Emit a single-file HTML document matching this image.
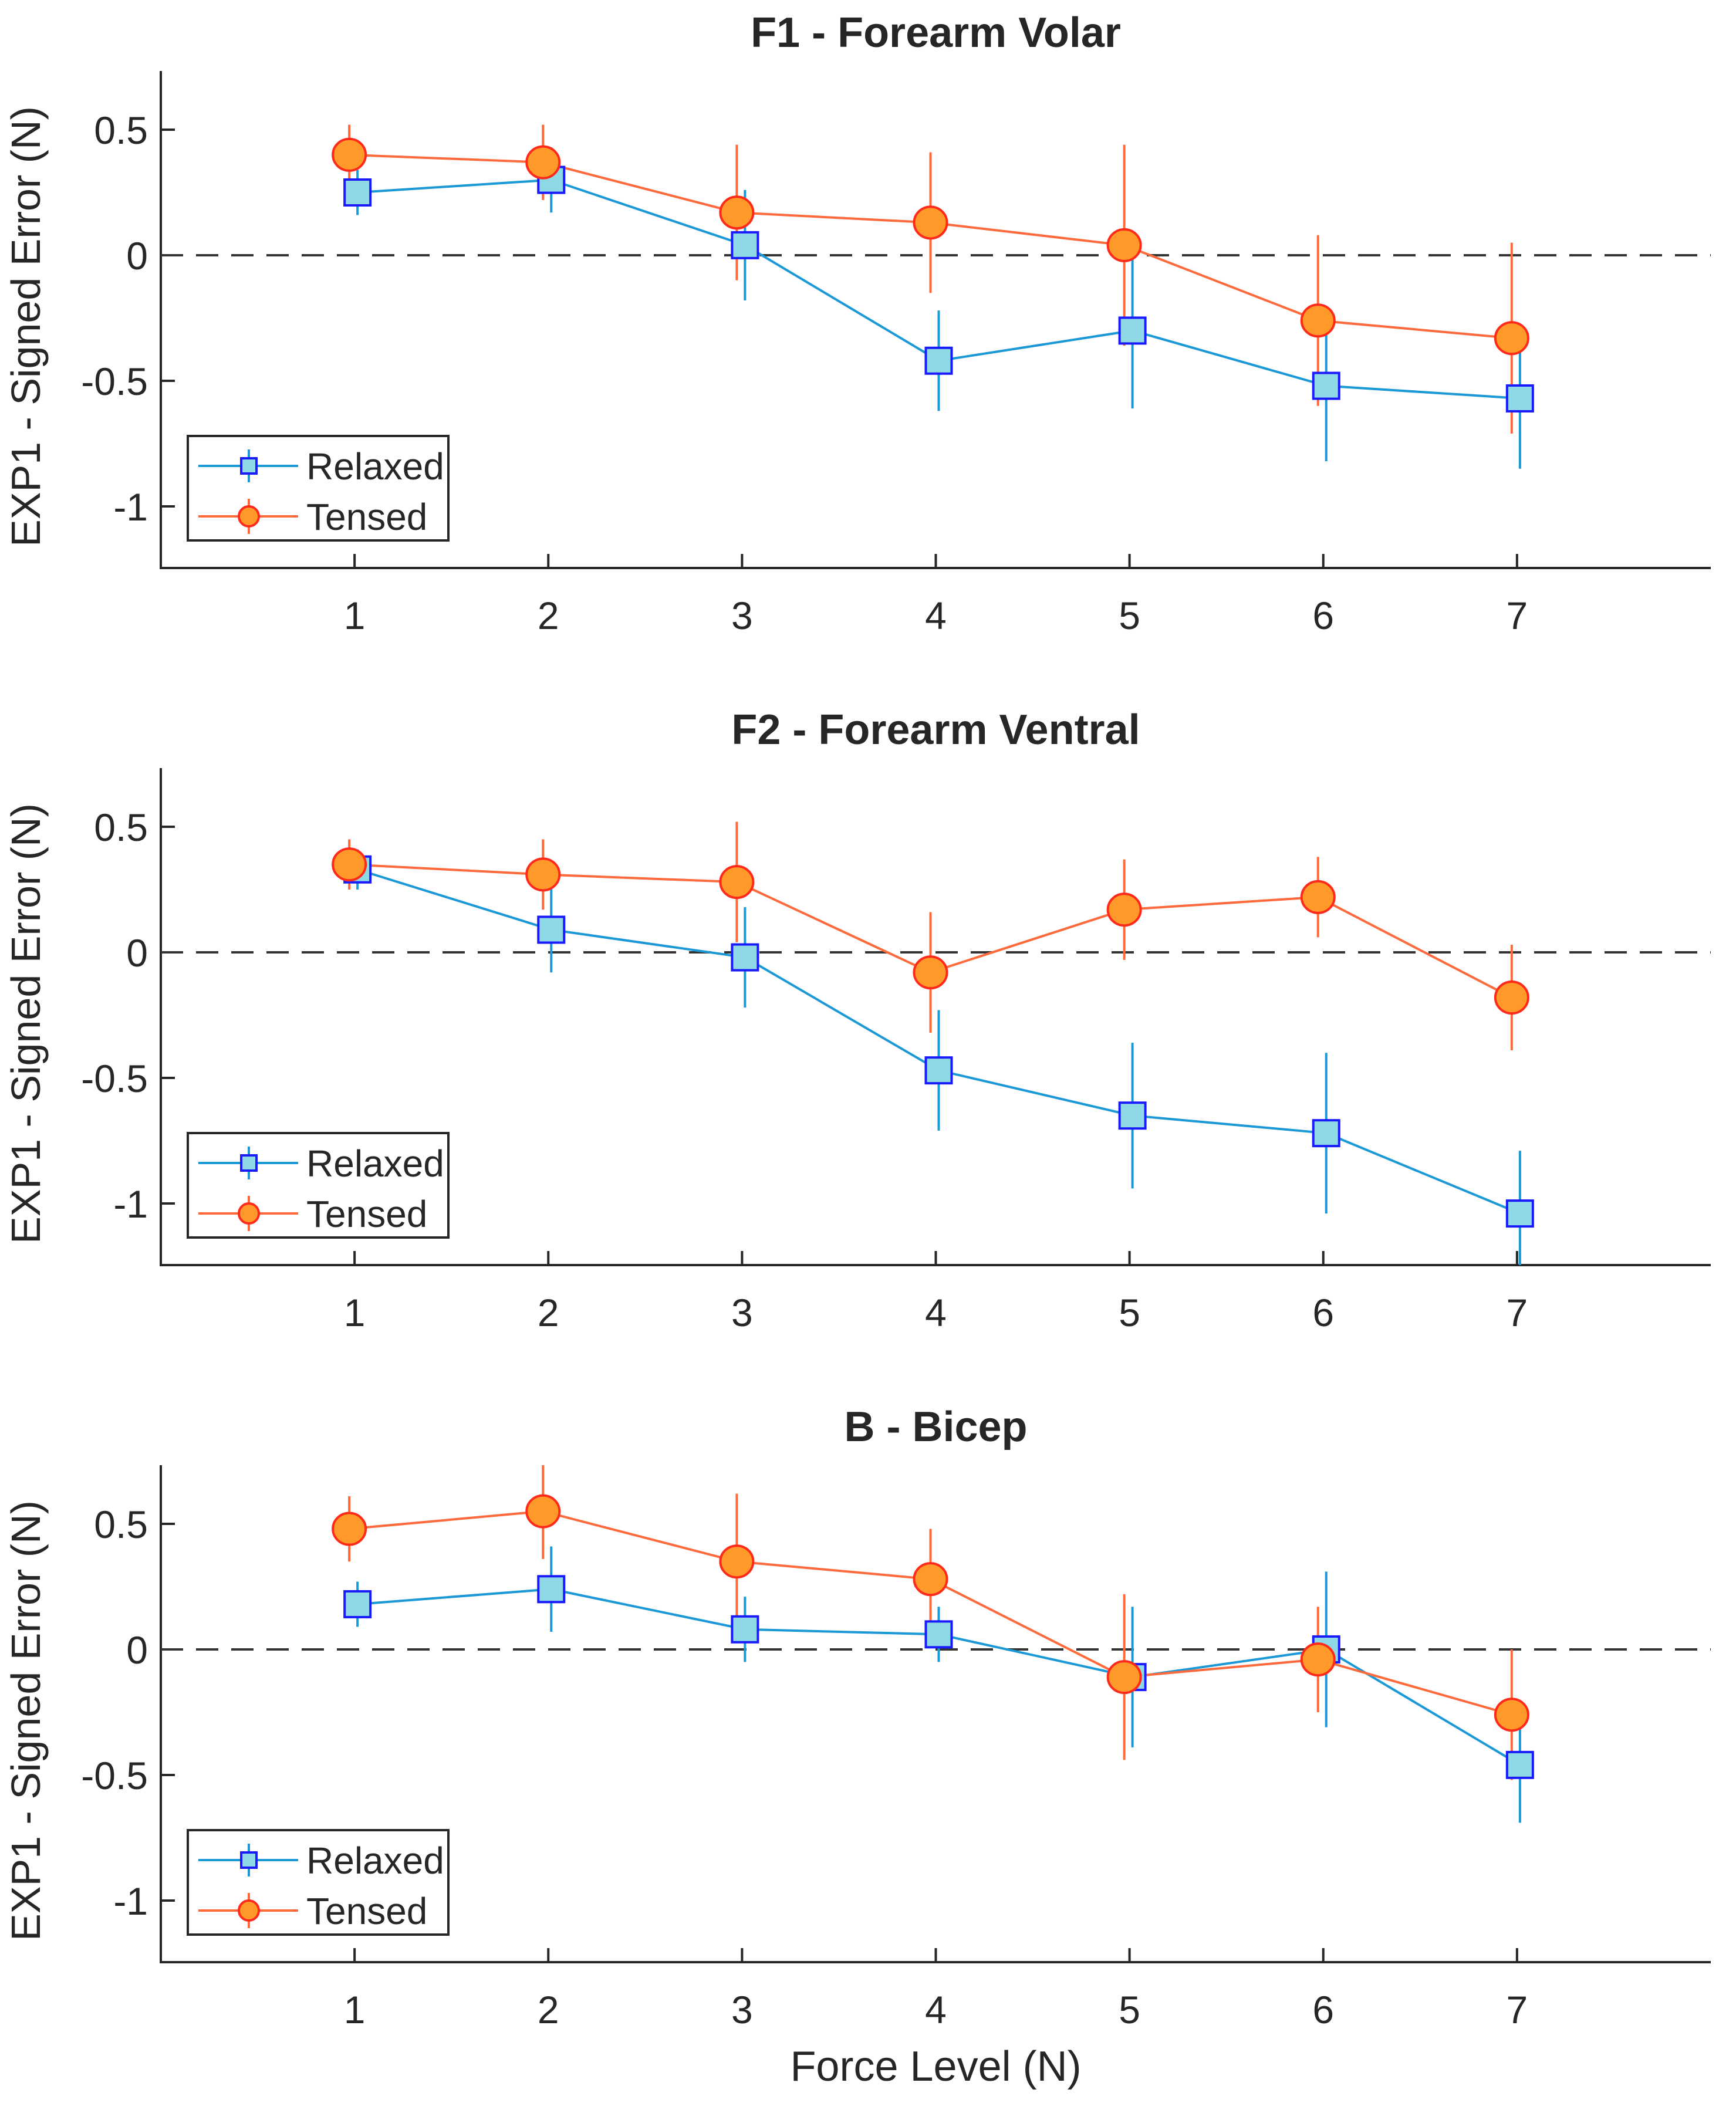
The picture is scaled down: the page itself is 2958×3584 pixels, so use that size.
<!DOCTYPE html>
<html><head><meta charset="utf-8"><style>
html,body{margin:0;padding:0;background:#fff}
svg{display:block}
text{font-family:"Liberation Sans",sans-serif;fill:#262626}
</style></head><body>
<svg id="chart" width="2958" height="3584" viewBox="0 0 2958 3584" xmlns="http://www.w3.org/2000/svg"></svg>
<script>
const categories = [1,2,3,4,5,6,7];
const titles = ["F1 - Forearm Volar","F2 - Forearm Ventral","B - Bicep"];
const yTicks = [0.5,0,-0.5,-1];
const yTickLabels = ["0.5","0","-0.5","-1"];
const relaxedF1 = [0.25,0.30,0.04,-0.42,-0.30,-0.52,-0.57];
const relaxedF1Err = [0.09,0.13,0.22,0.20,0.31,0.30,0.28];
const tensedF1 = [0.40,0.37,0.17,0.13,0.04,-0.26,-0.33];
const tensedF1Err = [0.12,0.15,0.27,0.28,0.40,0.34,0.38];
const relaxedF2 = [0.33,0.09,-0.02,-0.47,-0.65,-0.72,-1.04];
const relaxedF2Err = [0.08,0.17,0.20,0.24,0.29,0.32,0.25];
const tensedF2 = [0.35,0.31,0.28,-0.08,0.17,0.22,-0.18];
const tensedF2Err = [0.10,0.14,0.24,0.24,0.20,0.16,0.21];
const relaxedB = [0.18,0.24,0.08,0.06,-0.11,0.00,-0.46];
const relaxedBErr = [0.09,0.17,0.13,0.11,0.28,0.31,0.23];
const tensedB = [0.48,0.55,0.35,0.28,-0.11,-0.04,-0.26];
const tensedBErr = [0.13,0.19,0.27,0.20,0.33,0.21,0.26];

const panels = [
  {r:relaxedF1, re:relaxedF1Err, t:tensedF1, te:tensedF1Err},
  {r:relaxedF2, re:relaxedF2Err, t:tensedF2, te:tensedF2Err},
  {r:relaxedB, re:relaxedBErr, t:tensedB, te:tensedBErr}
];
const NS="http://www.w3.org/2000/svg";
const svg=document.getElementById('chart');
function mk(tag,attrs,parent){const e=document.createElementNS(NS,tag);for(const k in attrs)e.setAttribute(k,attrs[k]);(parent||svg).appendChild(e);return e;}
const L=274,R=2915,T0=121,B0=968,Y0=435,UNIT=428,DX=(R-L)/8;
const RL='#1b98d6',RE='#1a1aff',RF='#8fd8e6',TL='#ff6a3d',TE='#ff2a1a',TF='#ff9a2a';

panels.forEach((p,i)=>{
  const off=i*1188;
  const g=mk('g',{});
  
  
  const xs=v=>L+v*DX;
  const ys=v=>off+Y0-v*UNIT;
  const top=off+T0,bot=off+B0;
  const clipId='clip'+i;
  const cp=mk('clipPath',{id:clipId},g);mk('rect',{x:L,y:top,width:R-L,height:bot-top},cp);
  const tt=mk('text',{x:(L+R)/2,y:off+80,'text-anchor':'middle','font-size':72,'font-weight':'bold'},g);
  tt.textContent=titles[i];
  
  
  const ax=mk('path',{d:`M${L},${top} L${L},${bot} L${R},${bot}`,fill:'none',stroke:'#262626','stroke-width':4},g);
  
  
  yTicks.forEach((v,k)=>{
    mk('line',{x1:L,x2:L+24,y1:ys(v),y2:ys(v),stroke:'#262626','stroke-width':4},g);
    const t=mk('text',{x:L-22,y:ys(v)+24,'text-anchor':'end','font-size':66},g);
    t.textContent=yTickLabels[k];
    
    
  });
  categories.forEach(c=>{
    mk('line',{x1:xs(c),x2:xs(c),y1:bot,y2:bot-24,stroke:'#262626','stroke-width':4},g);
    const t=mk('text',{x:xs(c),y:bot+104,'text-anchor':'middle','font-size':66},g);
    t.textContent=c;
    
    
  });
  const yl=mk('text',{x:0,y:0,'text-anchor':'middle','font-size':70,transform:`translate(68,${(top+bot)/2+12}) rotate(-90)`},g);
  yl.textContent='EXP1 - Signed Error (N)';
  
  
  const z=mk('line',{x1:L,x2:R,y1:ys(0),y2:ys(0),stroke:'#333','stroke-width':4,'stroke-dasharray':'38 22'},g);
  
  
  const dg=mk('g',{'clip-path':`url(#${clipId})`},g);
  const rx=categories.map(c=>xs(c)+5), tx=categories.map(c=>xs(c)-9);
  const rLine=mk('polyline',{points:p.r.map((v,k)=>rx[k]+','+ys(v)).join(' '),fill:'none',stroke:RL,'stroke-width':4},dg);
  
  
  const tLine=mk('polyline',{points:p.t.map((v,k)=>tx[k]+','+ys(v)).join(' '),fill:'none',stroke:TL,'stroke-width':4},dg);
  
  
  p.r.forEach((v,k)=>{
    const e=mk('line',{x1:rx[k],x2:rx[k],y1:ys(v+p.re[k]),y2:ys(v-p.re[k]),stroke:RL,'stroke-width':4},dg);
    
    
  });
  p.t.forEach((v,k)=>{
    const e=mk('line',{x1:tx[k],x2:tx[k],y1:ys(v+p.te[k]),y2:ys(v-p.te[k]),stroke:TL,'stroke-width':4},dg);
    
    
  });
  p.r.forEach((v,k)=>{
    const m=mk('rect',{x:rx[k]-22,y:ys(v)-22,width:44,height:44,fill:RF,stroke:RE,'stroke-width':4},dg);
    
    
  });
  p.t.forEach((v,k)=>{
    const m=mk('ellipse',{cx:tx[k],cy:ys(v),rx:28,ry:27,fill:TF,stroke:TE,'stroke-width':4},dg);
    
    
  });
  const lg=mk('g',{},g);
  
  
  mk('rect',{x:320,y:off+743,width:444,height:178,fill:'#fff',stroke:'#262626','stroke-width':4},lg);
  const ly1=off+794,ly2=off+880;
  mk('line',{x1:338,x2:508,y1:ly1,y2:ly1,stroke:RL,'stroke-width':4},lg);
  mk('line',{x1:424,x2:424,y1:ly1-28,y2:ly1+28,stroke:RL,'stroke-width':4},lg);
  mk('rect',{x:411,y:ly1-13,width:26,height:26,fill:RF,stroke:RE,'stroke-width':4},lg);
  const t1=mk('text',{x:522,y:ly1+23,'font-size':64},lg);t1.textContent='Relaxed';
  
  
  mk('line',{x1:338,x2:508,y1:ly2,y2:ly2,stroke:TL,'stroke-width':4},lg);
  mk('line',{x1:424,x2:424,y1:ly2-30,y2:ly2+30,stroke:TL,'stroke-width':4},lg);
  mk('circle',{cx:424,cy:ly2,r:17,fill:TF,stroke:TE,'stroke-width':4},lg);
  const t2=mk('text',{x:522,y:ly2+23,'font-size':64},lg);t2.textContent='Tensed';
  
  
});
const xl=mk('text',{x:(L+R)/2,y:3546,'text-anchor':'middle','font-size':72});
xl.textContent='Force Level (N)';


</script>
</body></html>
